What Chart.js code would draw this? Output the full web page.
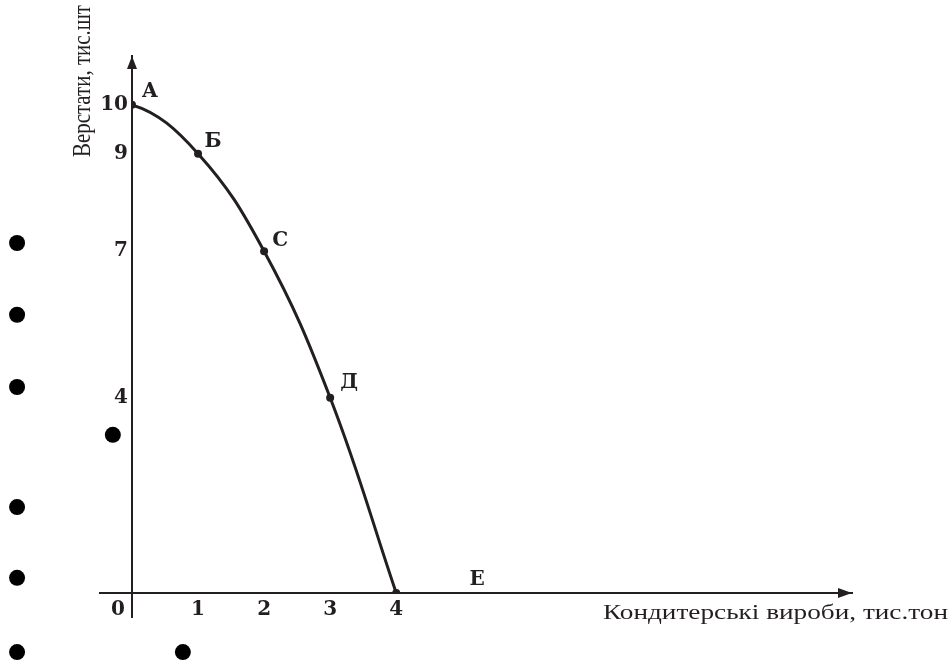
<!DOCTYPE html>
<html><head><meta charset="utf-8">
<script src="https://cdn.jsdelivr.net/npm/chart.js@4/dist/chart.umd.min.js"></script>
<style>html,body{margin:0;padding:0;background:#fff}#wrap{width:952px;height:663px;position:relative}</style>
</head><body><div id="wrap"><canvas id="c" width="952" height="663"></canvas></div>
<script>
// Data
const pointNames = ['А', 'Б', 'С', 'Д', 'Е'];
const confectionery = [0, 1, 2, 3, 4];      // тис. тон
const machineTools = [10, 9, 7, 4, 0];      // тис. шт
const xTickValues = [0, 1, 2, 3, 4];
const yTickValues = [4, 7, 9, 10];
const strayDotX = [-1.74, -1.74, -1.74, -0.29, -1.74, -1.74, -1.74, 0.77];
const strayDotY = [7.17, 5.70, 4.22, 3.24, 1.76, 0.31, -1.21, -1.21];
const xTitle = 'Кондитерські вироби, тис.тон';
const yTitle = 'Верстати, тис.шт';

// Styles
const INK = '#231f20';
const labelOffsets = [[18, -13], [15, -12], [16, -10], [19, -15], [81, -13]];
const startTangentSlope = 0.3;   // curve leaves point A gently

const curveShape = {
  id: 'curveShape',
  beforeDatasetDraw(chart, args) {
    if (args.index !== 0) return;
    const meta = chart.getDatasetMeta(0);
    const line = meta.dataset;
    if (line && line.updateControlPoints) line.updateControlPoints(chart.chartArea, 'x');
    const p0 = meta.data[0], p1 = meta.data[1];
    const dx = (p1.x - p0.x) * 0.4;
    p0.cp2x = p0.x + dx;
    p0.cp2y = p0.y + dx * startTangentSlope;
    line._path = undefined;
  }
};

const decor = {
  id: 'decor',
  afterDraw(chart) {
    const ctx = chart.ctx;
    const xs = chart.scales.x, ys = chart.scales.y;
    const x0 = xs.getPixelForValue(0), y0 = ys.getPixelForValue(0);
    const ca = chart.chartArea;
    ctx.save();
    ctx.strokeStyle = INK; ctx.fillStyle = INK; ctx.lineWidth = 2;
    // axis extensions
    ctx.beginPath();
    ctx.moveTo(xs.getPixelForValue(-0.5), y0); ctx.lineTo(x0, y0);
    ctx.moveTo(x0, y0); ctx.lineTo(x0, ys.getPixelForValue(-0.51));
    ctx.stroke();
    // arrows
    ctx.beginPath();
    ctx.moveTo(ca.right, y0); ctx.lineTo(ca.right - 14, y0 - 5); ctx.lineTo(ca.right - 14, y0 + 5); ctx.closePath();
    ctx.fill();
    ctx.beginPath();
    ctx.moveTo(x0, ca.top); ctx.lineTo(x0 - 5, ca.top + 13); ctx.lineTo(x0 + 5, ca.top + 13); ctx.closePath();
    ctx.fill();
    // stray bullet dots (outside the plot area)
    ctx.fillStyle = '#000';
    strayDotX.forEach((v, i) => {
      ctx.beginPath();
      ctx.arc(xs.getPixelForValue(v), ys.getPixelForValue(strayDotY[i]), 8, 0, Math.PI * 2);
      ctx.fill();
    });
    ctx.fillStyle = INK;
    // point labels
    const meta = chart.getDatasetMeta(0);
    ctx.font = 'bold 20px "DejaVu Serif"';
    ctx.textAlign = 'center'; ctx.textBaseline = 'middle';
    meta.data.forEach((el, i) => {
      ctx.fillText(pointNames[i], el.x + labelOffsets[i][0], el.y + labelOffsets[i][1]);
    });
    // y title (condensed, rotated)
    ctx.save();
    ctx.font = '26px "Liberation Serif"';
    const yw = ctx.measureText(yTitle).width;
    ctx.translate(83, 157);
    ctx.rotate(-Math.PI / 2);
    ctx.scale(152 / yw, 1);
    ctx.textAlign = 'left'; ctx.textBaseline = 'middle';
    ctx.fillText(yTitle, 0, 0);
    ctx.restore();
    // x title (stretched)
    ctx.save();
    ctx.font = '21px "Liberation Serif"';
    const xw = ctx.measureText(xTitle).width;
    ctx.translate(603, 619);
    ctx.scale(345 / xw, 1);
    ctx.textAlign = 'left'; ctx.textBaseline = 'alphabetic';
    ctx.fillText(xTitle, 0, 0);
    ctx.restore();
    ctx.restore();
  }
};

new Chart(document.getElementById('c'), {
  type: 'scatter',
  data: {
    datasets: [
      {
        data: confectionery.map((x, i) => ({ x, y: machineTools[i] })),
        showLine: true,
        borderColor: INK,
        borderWidth: 3,
        tension: 0.4,
        pointRadius: 4,
        pointBackgroundColor: INK,
        pointBorderColor: INK,
        pointBorderWidth: 0
      }
    ]
  },
  options: {
    responsive: false,
    animation: false,
    devicePixelRatio: 1,
    layout: { padding: { left: 0, top: 56, right: 100, bottom: 0 } },
    plugins: { legend: { display: false }, tooltip: { enabled: false } },
    scales: {
      x: {
        type: 'linear', min: 0, max: 10.9,
        afterBuildTicks: s => { s.ticks = xTickValues.map(v => ({ value: v })); },
        afterFit: s => { s.height = 70; },
        grid: { display: false, drawTicks: false },
        border: { display: true, color: INK, width: 2 },
        ticks: {
          autoSkip: false, maxRotation: 0, padding: 5, color: INK,
          font: { family: 'DejaVu Serif', weight: 'bold', size: 20 },
          callback: v => v === 0 ? '0    ' : String(v)
        }
      },
      y: {
        type: 'linear', min: 0, max: 11,
        afterBuildTicks: s => { s.ticks = yTickValues.map(v => ({ value: v })); },
        afterFit: s => { s.width = 132; },
        grid: { display: false, drawTicks: false },
        border: { display: true, color: INK, width: 2 },
        ticks: {
          autoSkip: false, padding: 4, color: INK,
          font: { family: 'DejaVu Serif', weight: 'bold', size: 20 }
        }
      }
    }
  },
  plugins: [curveShape, decor]
});
</script>
</body></html>
